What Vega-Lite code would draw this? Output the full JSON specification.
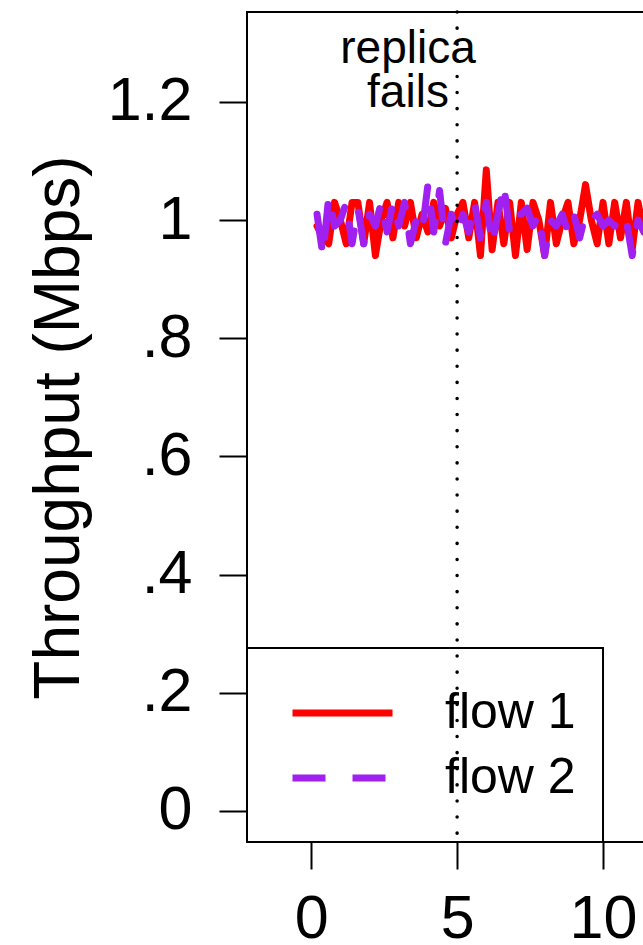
{
  "$schema": "https://vega.github.io/schema/vega-lite/v6.json",
  "width": 642,
  "height": 830,
  "autosize": {"type": "none"},
  "padding": {"left": 247, "top": 12, "right": 0, "bottom": 103},
  "background": "white",
  "config": {
    "view": {"stroke": "black", "strokeWidth": 2},
    "font": "Liberation Sans",
    "legend": {
      "orient": "bottom-left",
      "offset": 0,
      "symbolType": "stroke",
      "symbolSize": 10000,
      "symbolStrokeWidth": 7,
      "labelFontSize": 50,
      "labelFont": "Liberation Sans",
      "labelColor": "black",
      "labelOffset": 49,
      "padding": 34,
      "clipHeight": 60,
      "rowPadding": 5,
      "symbolOffset": 8
    }
  },
  "datasets": {
    "flows": [
      {"t":0.2,"v":0.99,"flow":"flow 1"},{"t":0.4,"v":0.97,"flow":"flow 1"},{"t":0.6,"v":0.96,"flow":"flow 1"},{"t":0.8,"v":1.03,"flow":"flow 1"},{"t":1.0,"v":1.0,"flow":"flow 1"},{"t":1.2,"v":0.96,"flow":"flow 1"},{"t":1.4,"v":1.03,"flow":"flow 1"},{"t":1.6,"v":1.03,"flow":"flow 1"},{"t":1.8,"v":0.96,"flow":"flow 1"},{"t":2.0,"v":1.03,"flow":"flow 1"},{"t":2.2,"v":0.94,"flow":"flow 1"},{"t":2.4,"v":1.0,"flow":"flow 1"},{"t":2.6,"v":1.03,"flow":"flow 1"},{"t":2.8,"v":0.97,"flow":"flow 1"},{"t":3.0,"v":1.03,"flow":"flow 1"},{"t":3.2,"v":0.99,"flow":"flow 1"},{"t":3.4,"v":1.03,"flow":"flow 1"},{"t":3.6,"v":0.97,"flow":"flow 1"},{"t":3.8,"v":1.01,"flow":"flow 1"},{"t":4.0,"v":0.98,"flow":"flow 1"},{"t":4.2,"v":1.03,"flow":"flow 1"},{"t":4.4,"v":0.99,"flow":"flow 1"},{"t":4.6,"v":1.02,"flow":"flow 1"},{"t":4.8,"v":0.97,"flow":"flow 1"},{"t":5.0,"v":1.01,"flow":"flow 1"},{"t":5.2,"v":1.03,"flow":"flow 1"},{"t":5.4,"v":0.97,"flow":"flow 1"},{"t":5.6,"v":1.03,"flow":"flow 1"},{"t":5.8,"v":0.94,"flow":"flow 1"},{"t":6.0,"v":1.085,"flow":"flow 1"},{"t":6.2,"v":0.95,"flow":"flow 1"},{"t":6.4,"v":1.03,"flow":"flow 1"},{"t":6.6,"v":0.96,"flow":"flow 1"},{"t":6.8,"v":1.03,"flow":"flow 1"},{"t":7.0,"v":0.94,"flow":"flow 1"},{"t":7.2,"v":1.03,"flow":"flow 1"},{"t":7.4,"v":0.95,"flow":"flow 1"},{"t":7.6,"v":1.03,"flow":"flow 1"},{"t":7.8,"v":1.0,"flow":"flow 1"},{"t":8.0,"v":0.94,"flow":"flow 1"},{"t":8.2,"v":1.03,"flow":"flow 1"},{"t":8.4,"v":0.96,"flow":"flow 1"},{"t":8.6,"v":1.0,"flow":"flow 1"},{"t":8.8,"v":1.03,"flow":"flow 1"},{"t":9.0,"v":0.96,"flow":"flow 1"},{"t":9.2,"v":1.0,"flow":"flow 1"},{"t":9.4,"v":1.06,"flow":"flow 1"},{"t":9.6,"v":1.0,"flow":"flow 1"},{"t":9.8,"v":0.96,"flow":"flow 1"},{"t":10.0,"v":1.03,"flow":"flow 1"},{"t":10.2,"v":0.96,"flow":"flow 1"},{"t":10.4,"v":1.03,"flow":"flow 1"},{"t":10.6,"v":0.97,"flow":"flow 1"},{"t":10.8,"v":1.03,"flow":"flow 1"},{"t":11.0,"v":0.95,"flow":"flow 1"},{"t":11.2,"v":1.03,"flow":"flow 1"},{"t":11.4,"v":0.98,"flow":"flow 1"},{"t":11.6,"v":1.03,"flow":"flow 1"},
      {"t":0.2,"v":1.01,"flow":"flow 2"},{"t":0.4,"v":0.94,"flow":"flow 2"},{"t":0.6,"v":1.04,"flow":"flow 2"},{"t":0.8,"v":0.99,"flow":"flow 2"},{"t":1.0,"v":1.0,"flow":"flow 2"},{"t":1.2,"v":1.03,"flow":"flow 2"},{"t":1.4,"v":0.96,"flow":"flow 2"},{"t":1.6,"v":1.02,"flow":"flow 2"},{"t":1.8,"v":0.96,"flow":"flow 2"},{"t":2.0,"v":1.01,"flow":"flow 2"},{"t":2.2,"v":0.99,"flow":"flow 2"},{"t":2.4,"v":1.03,"flow":"flow 2"},{"t":2.6,"v":0.98,"flow":"flow 2"},{"t":2.8,"v":1.03,"flow":"flow 2"},{"t":3.0,"v":0.99,"flow":"flow 2"},{"t":3.2,"v":1.03,"flow":"flow 2"},{"t":3.4,"v":0.96,"flow":"flow 2"},{"t":3.6,"v":1.0,"flow":"flow 2"},{"t":3.8,"v":0.98,"flow":"flow 2"},{"t":4.0,"v":1.06,"flow":"flow 2"},{"t":4.2,"v":0.98,"flow":"flow 2"},{"t":4.4,"v":1.05,"flow":"flow 2"},{"t":4.6,"v":0.96,"flow":"flow 2"},{"t":4.8,"v":1.01,"flow":"flow 2"},{"t":5.0,"v":0.98,"flow":"flow 2"},{"t":5.2,"v":1.01,"flow":"flow 2"},{"t":5.4,"v":0.98,"flow":"flow 2"},{"t":5.6,"v":1.03,"flow":"flow 2"},{"t":5.8,"v":0.97,"flow":"flow 2"},{"t":6.0,"v":1.03,"flow":"flow 2"},{"t":6.2,"v":0.96,"flow":"flow 2"},{"t":6.4,"v":1.01,"flow":"flow 2"},{"t":6.6,"v":1.06,"flow":"flow 2"},{"t":6.8,"v":0.98,"flow":"flow 2"},{"t":7.0,"v":1.01,"flow":"flow 2"},{"t":7.2,"v":1.01,"flow":"flow 2"},{"t":7.4,"v":1.02,"flow":"flow 2"},{"t":7.6,"v":0.99,"flow":"flow 2"},{"t":7.8,"v":1.01,"flow":"flow 2"},{"t":8.0,"v":0.94,"flow":"flow 2"},{"t":8.2,"v":1.0,"flow":"flow 2"},{"t":8.4,"v":0.99,"flow":"flow 2"},{"t":8.6,"v":1.01,"flow":"flow 2"},{"t":8.8,"v":0.98,"flow":"flow 2"},{"t":9.0,"v":1.01,"flow":"flow 2"},{"t":9.2,"v":0.97,"flow":"flow 2"},{"t":9.4,"v":1.01,"flow":"flow 2"},{"t":9.6,"v":1.0,"flow":"flow 2"},{"t":9.8,"v":1.01,"flow":"flow 2"},{"t":10.0,"v":0.99,"flow":"flow 2"},{"t":10.2,"v":1.0,"flow":"flow 2"},{"t":10.4,"v":0.99,"flow":"flow 2"},{"t":10.6,"v":1.01,"flow":"flow 2"},{"t":10.8,"v":1.0,"flow":"flow 2"},{"t":11.0,"v":0.94,"flow":"flow 2"},{"t":11.2,"v":1.0,"flow":"flow 2"},{"t":11.4,"v":0.98,"flow":"flow 2"},{"t":11.6,"v":1.0,"flow":"flow 2"}
    ]
  },
  "layer": [
    {
      "data": {"values": [{}]},
      "mark": {"type": "rect", "fill": "white", "fillOpacity": 0, "stroke": "black", "strokeWidth": 2},
      "encoding": {
        "x": {"datum": -2.2, "type": "quantitative"},
        "x2": {"datum": 10},
        "y": {"datum": -0.0525, "type": "quantitative"},
        "y2": {"datum": 0.276}
      }
    },
    {
      "data": {"name": "flows"},
      "mark": {"type": "line", "strokeWidth": 7, "strokeCap": "round", "strokeJoin": "round"},
      "encoding": {
        "x": {
          "field": "t", "type": "quantitative",
          "scale": {"domain": [-2.2, 19.8], "zero": false, "nice": false},
          "axis": {
            "values": [0, 5, 10, 15], "title": null, "grid": false, "domain": false,
            "tickSize": 27, "tickWidth": 2, "tickColor": "black",
            "labelFontSize": 61, "labelFont": "Liberation Sans", "labelColor": "black",
            "labelPadding": 20, "labelFlush": false, "labelOverlap": false
          }
        },
        "y": {
          "field": "v", "type": "quantitative",
          "scale": {"domain": [-0.0525, 1.3522], "zero": false, "nice": false},
          "axis": {
            "values": [0, 0.2, 0.4, 0.6, 0.8, 1, 1.2], "grid": false, "domain": false,
            "tickSize": 28, "tickWidth": 2, "tickColor": "black",
            "labelFontSize": 61, "labelFont": "Liberation Sans", "labelColor": "black",
            "labelPadding": 27, "labelFlush": false, "labelOverlap": false,
            "labelExpr": "datum.value < 0.01 ? '0' : datum.value < 0.99 ? '.' + round(datum.value * 10) : format(datum.value, '~g')",
            "title": "Throughput (Mbps)", "titleFontSize": 64, "titleFontWeight": "normal",
            "titleFont": "Liberation Sans", "titleColor": "black", "titlePadding": 16
          }
        },
        "color": {
          "field": "flow", "type": "nominal",
          "scale": {"domain": ["flow 1", "flow 2"], "range": ["#FF0000", "#A020F0"]},
          "legend": {"title": null}
        },
        "strokeDash": {
          "field": "flow", "type": "nominal",
          "scale": {"domain": ["flow 1", "flow 2"], "range": [[10000, 0], [33, 27]]},
          "legend": {"title": null}
        }
      }
    },
    {
      "data": {"values": [{}]},
      "mark": {"type": "rule", "color": "black", "strokeWidth": 3.5, "strokeCap": "round", "strokeDash": [0.1, 16]},
      "encoding": {"x": {"datum": 5, "type": "quantitative"}}
    },
    {
      "data": {"values": [{}]},
      "mark": {"type": "text", "lineBreak": "\n", "align": "center", "baseline": "alphabetic", "fontSize": 46, "lineHeight": 44, "font": "Liberation Sans", "color": "black"},
      "encoding": {
        "x": {"datum": 3.317, "type": "quantitative"},
        "y": {"datum": 1.266, "type": "quantitative"},
        "text": {"value": "replica\nfails"}
      }
    }
  ]
}
